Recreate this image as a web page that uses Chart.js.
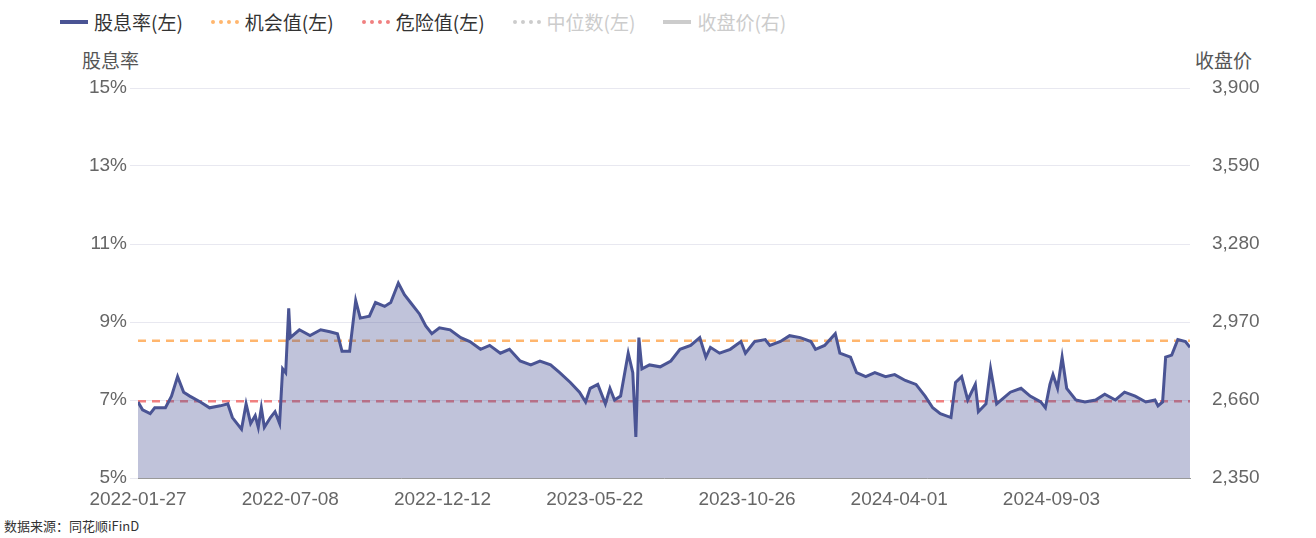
<!DOCTYPE html>
<html><head><meta charset="utf-8">
<script src="https://cdn.jsdelivr.net/npm/chart.js@4"></script>
<style>
body{margin:0;width:1316px;height:538px;background:#fff;font-family:"Noto Sans CJK SC","Noto Sans",sans-serif;position:relative;overflow:hidden}
#legend{position:absolute;left:60px;top:8px;display:flex;font-size:19px;}
.it{display:flex;align-items:center;margin-right:28px}
.sw{width:28px;height:0;margin-right:6px}
.t{position:absolute;font-size:19px;color:#555}
#wrap{position:absolute;left:0;top:40px;width:1316px;height:468px}
</style></head><body>
<div id="legend"></div>
<div class="t" style="left:82px;top:46px">股息率</div>
<div class="t" style="left:1195px;top:46px">收盘价</div>
<div class="t" style="left:4px;top:516px;font-size:13px;color:#333">数据来源：同花顺iFinD</div>
<div id="wrap"><canvas id="c"></canvas></div>
<script>
const tickLabels=["2022-01-27","2022-07-08","2022-12-12","2023-05-22","2023-10-26","2024-04-01","2024-09-03"];
const dayPos=[0,3,8,11,18,22,26,30,34,41,47,54,59,62,66,68,71,74,77,79,81,83,87,90,93,95,97,99,100,106,113,120,126,131,134,139,141,143,146,152,156,162,166,171,175,179,185,189,193,198,205,212,218,225,231,238,244,251,258,264,271,277,284,290,294,297,302,307,310,313,317,322,325,327,329,331,336,343,350,356,363,369,373,376,382,389,396,399,405,412,415,422,428,435,442,445,451,458,461,468,472,478,484,491,497,504,511,517,522,527,534,537,541,545,550,552,557,560,564,570,573,580,586,593,596,599,601,604,607,610,616,622,629,635,642,648,655,662,668,670,673,675,679,683,688,691];
const yieldVals=[6.95,6.75,6.65,6.8,6.8,7.1,7.6,7.2,7.1,6.95,6.8,6.85,6.9,6.55,6.35,6.25,6.9,6.4,6.6,6.3,6.8,6.3,6.55,6.7,6.4,7.8,7.7,9.35,8.6,8.8,8.65,8.8,8.75,8.7,8.25,8.25,8.9,9.55,9.1,9.15,9.5,9.4,9.5,10.0,9.7,9.5,9.2,8.9,8.7,8.85,8.8,8.6,8.5,8.3,8.4,8.2,8.3,8.0,7.9,8.0,7.9,7.7,7.45,7.2,6.95,7.3,7.4,6.9,7.3,7.0,7.1,8.2,7.7,6.05,8.6,7.8,7.9,7.85,8.0,8.3,8.4,8.6,8.1,8.35,8.2,8.3,8.5,8.2,8.5,8.55,8.4,8.5,8.65,8.6,8.5,8.3,8.4,8.7,8.2,8.1,7.7,7.6,7.7,7.6,7.65,7.5,7.4,7.1,6.8,6.65,6.55,7.45,7.6,7.0,7.4,6.7,6.9,7.8,6.9,7.1,7.2,7.3,7.1,6.95,6.8,7.4,7.65,7.3,8.1,7.3,7.0,6.95,7.0,7.15,7.0,7.2,7.1,6.95,7.0,6.85,6.95,8.1,8.15,8.55,8.5,8.35];
const opportunity=8.52, danger=6.97;
const legendItems=[["股息率(左)","#4a5494","solid",1],["机会值(左)","#ffb66e","dashed",1],["危险值(左)","#f08080","dashed",1],["中位数(左)","#ccc","dashed",0],["收盘价(右)","#ccc","solid",0]];
const lg=document.getElementById('legend');
legendItems.forEach(([n,c,s,on])=>{const d=document.createElement('div');d.className='it';d.innerHTML=`<span class="sw" style="border-top:4px ${s==='dashed'?'dotted':'solid'} ${c}"></span><span style="color:${on?'#333':'#ccc'}">${n}</span>`;lg.appendChild(d);});
const pts=dayPos.map((x,i)=>({x,y:yieldVals[i]}));
const xMax=dayPos[dayPos.length-1];
new Chart(document.getElementById('c'),{type:'scatter',data:{datasets:[
{data:pts,showLine:true,borderColor:'#4a5494',backgroundColor:'rgba(74,84,148,0.35)',fill:'origin',borderWidth:3,pointRadius:0,tension:0},
{data:[{x:0,y:opportunity},{x:xMax,y:opportunity}],showLine:true,borderColor:'#ffb66e',borderDash:[8,6],borderWidth:2.5,pointRadius:0},
{data:[{x:0,y:danger},{x:xMax,y:danger}],showLine:true,borderColor:'#f08080',borderDash:[8,6],borderWidth:2.5,pointRadius:0}
]},options:{responsive:true,maintainAspectRatio:false,animation:false,layout:{padding:{top:48}},
plugins:{legend:{display:false},tooltip:{enabled:false}},
scales:{x:{type:'linear',min:0,max:xMax,afterBuildTicks:a=>{a.ticks=tickLabels.map((_,i)=>({value:i*100}));},
ticks:{autoSkip:false,maxRotation:0,color:'#666',font:{size:19},padding:2,callback:v=>tickLabels[v/100]},grid:{display:false},border:{color:'#999'},afterFit:a=>{a.height=30}},
y:{position:'left',min:5,max:15,ticks:{stepSize:2,color:'#666',font:{size:19},callback:v=>v+'%'},grid:{color:'#e8e8f0'},border:{display:false},afterFit:a=>{a.width=138}},
y2:{position:'right',min:2350,max:3900,ticks:{stepSize:310,color:'#666',font:{size:19},padding:14,callback:v=>v.toLocaleString('en-US')},grid:{display:false},border:{display:false},afterFit:a=>{a.width=126}}}}});
</script></body></html>
